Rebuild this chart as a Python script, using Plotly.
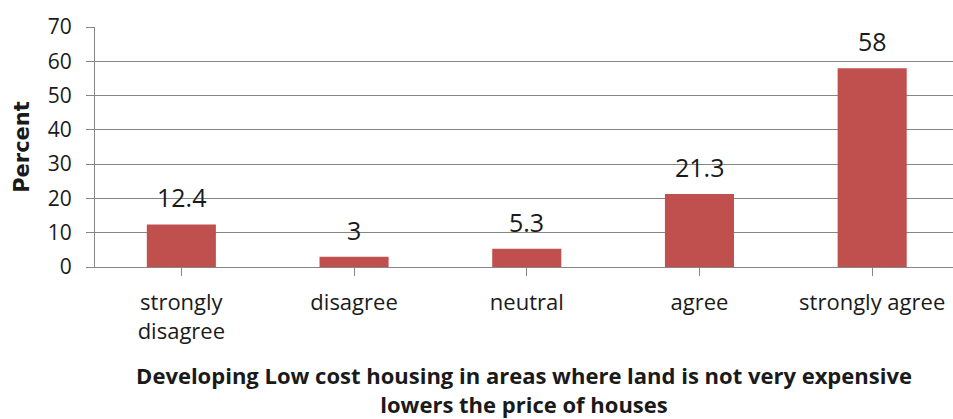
import plotly.graph_objects as go

categories = ["strongly<br>disagree", "disagree", "neutral", "agree", "strongly agree"]
percent = [12.4, 3, 5.3, 21.3, 58]
y_ticks = [0, 10, 20, 30, 40, 50, 60, 70]

bar_color = "#C0504D"
grid_color = "#868686"
font_family = "'Open Sans', Lato, sans-serif"

fig = go.Figure(
    go.Bar(
        x=list(range(len(categories))),
        y=percent,
        width=0.4,
        marker=dict(color=bar_color, line=dict(width=0)),
        hoverinfo="skip",
    )
)

# value labels floating above each bar
for i, v in enumerate(percent):
    fig.add_annotation(
        x=i, y=v, text=f"{v:g}", showarrow=False,
        yanchor="bottom", yshift=8,
        font=dict(family=font_family, size=25, color="#1a1a1a"),
    )

fig.update_layout(
    width=953, height=419,
    margin=dict(l=95, r=0, t=27, b=152),
    paper_bgcolor="white", plot_bgcolor="white",
    showlegend=False,
    font=dict(family=font_family, size=22, color="#1a1a1a"),
)

fig.update_xaxes(
    range=[-0.5, 4.468],
    tickmode="array",
    tickvals=list(range(len(categories))),
    ticktext=categories,
    tickson="boundaries",
    ticks="outside", ticklen=8, tickcolor=grid_color,
    showline=True, linecolor=grid_color, linewidth=1,
    showgrid=False, zeroline=False,
    ticklabelstandoff=8,
    tickfont=dict(size=22),
    title=dict(
        text="<b>Developing Low cost housing in areas where land is not very expensive<br>lowers the price of houses</b>",
        font=dict(size=22),
        standoff=24,
    ),
)

fig.update_yaxes(
    range=[0, 70],
    tickmode="array", tickvals=y_ticks,
    ticks="outside", ticklen=8, tickcolor=grid_color,
    showline=True, linecolor=grid_color, linewidth=1,
    showgrid=True, gridcolor=grid_color, gridwidth=1,
    zeroline=False,
    ticklabelstandoff=10,
    tickfont=dict(size=21),
    title=dict(
        text="<b>Percent</b>",
        font=dict(family="'DejaVu Sans', sans-serif", size=21),
        standoff=12,
    ),
)

fig.write_html("out.html")
